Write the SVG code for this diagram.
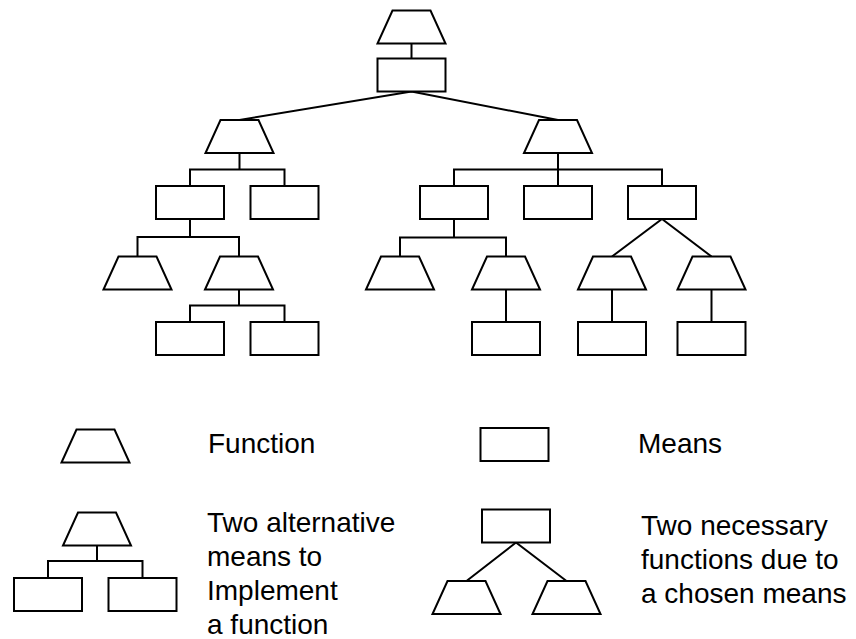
<svg xmlns="http://www.w3.org/2000/svg" xmlns:xlink="http://www.w3.org/1999/xlink" width="856" height="639" viewBox="0 0 856 639">
  <style>
    .shape { fill: #fff; stroke: #000; stroke-width: 2; stroke-linejoin: miter; }
    .link { fill: none; stroke: #000; stroke-width: 2; }
    .label { font-family: "Liberation Sans", Arial, Helvetica, sans-serif; font-size: 28px; fill: #000; }
  </style>
  <defs>
    <!-- function: trapezoid anchored at its top centre -->
    <path id="fn" d="M-19,0 H19 L34,33 H-34 Z"/>
    <!-- means: rectangle anchored at its top centre -->
    <rect id="mn" x="-34" y="0" width="68" height="33"/>
  </defs>
  <rect width="856" height="639" fill="#fff"/>

  <!-- connectors -->
  <g id="connectors" class="link">
    <path d="M411.5,43.5 V58.5"/>
    <path d="M239.5,120 L411.5,91.5 L558,120"/>
    <path d="M239.5,153 V169.5 M190,186 V169.5 H284.5 V186"/>
    <path d="M558,153 V186 M454,186 V169.5 H662 V186"/>
    <path d="M190,219 V237 M137.5,256.5 V237 H239 V256.5"/>
    <path d="M454,219 V237.5 M400,256.5 V237.5 H506 V256.5"/>
    <path d="M612,256.5 L662,219 L711.5,256.5"/>
    <path d="M239,289.5 V305.5 M190,322 V305.5 H284.5 V322"/>
    <path d="M506,289.5 V322"/>
    <path d="M612,289.5 V322"/>
    <path d="M711.5,289.5 V322"/>
  </g>

  <!-- tree nodes -->
  <g id="f0"><use href="#fn" class="shape" x="411.5" y="10.5"/></g>
  <g id="m0"><use href="#mn" class="shape" x="411.5" y="58.5"/></g>
  <g id="f1"><use href="#fn" class="shape" x="239.5" y="120"/></g>
  <g id="f2"><use href="#fn" class="shape" x="558" y="120"/></g>
  <g id="m1"><use href="#mn" class="shape" x="190" y="186"/></g>
  <g id="m2"><use href="#mn" class="shape" x="284.5" y="186"/></g>
  <g id="m3"><use href="#mn" class="shape" x="454" y="186"/></g>
  <g id="m4"><use href="#mn" class="shape" x="558" y="186"/></g>
  <g id="m5"><use href="#mn" class="shape" x="662" y="186"/></g>
  <g id="f3"><use href="#fn" class="shape" x="137.5" y="256.5"/></g>
  <g id="f4"><use href="#fn" class="shape" x="239" y="256.5"/></g>
  <g id="f5"><use href="#fn" class="shape" x="400" y="256.5"/></g>
  <g id="f6"><use href="#fn" class="shape" x="506" y="256.5"/></g>
  <g id="f7"><use href="#fn" class="shape" x="612" y="256.5"/></g>
  <g id="f8"><use href="#fn" class="shape" x="711.5" y="256.5"/></g>
  <g id="m6"><use href="#mn" class="shape" x="190" y="322"/></g>
  <g id="m7"><use href="#mn" class="shape" x="284.5" y="322"/></g>
  <g id="m8"><use href="#mn" class="shape" x="506" y="322"/></g>
  <g id="m9"><use href="#mn" class="shape" x="612" y="322"/></g>
  <g id="m10"><use href="#mn" class="shape" x="711.5" y="322"/></g>

  <!-- legend -->
  <g id="legend-function">
    <use href="#fn" class="shape" x="95.5" y="429.5"/>
    <text class="label" x="208" y="452.5">Function</text>
  </g>
  <g id="legend-means">
    <use href="#mn" class="shape" x="514.5" y="428"/>
    <text class="label" x="638" y="452.5">Means</text>
  </g>
  <g id="legend-alternatives">
    <path class="link" d="M97,545 V561 M48,578 V561 H142.5 V578"/>
    <use href="#fn" class="shape" x="97" y="512.5"/>
    <use href="#mn" class="shape" x="48" y="578"/>
    <use href="#mn" class="shape" x="142.5" y="578"/>
    <text class="label" x="207">
      <tspan x="207" y="532">Two alternative</tspan>
      <tspan x="207" y="566">means to</tspan>
      <tspan x="207" y="600">Implement</tspan>
      <tspan x="207" y="634">a function</tspan>
    </text>
  </g>
  <g id="legend-necessary">
    <path class="link" d="M466.5,581 L516,542.5 L566.5,581"/>
    <use href="#mn" class="shape" x="516" y="509.5"/>
    <use href="#fn" class="shape" x="466.5" y="581"/>
    <use href="#fn" class="shape" x="566.5" y="581"/>
    <text class="label" x="641">
      <tspan x="641" y="534.5">Two necessary</tspan>
      <tspan x="641" y="568.5">functions due to</tspan>
      <tspan x="641" y="602.5">a chosen means</tspan>
    </text>
  </g>
</svg>
